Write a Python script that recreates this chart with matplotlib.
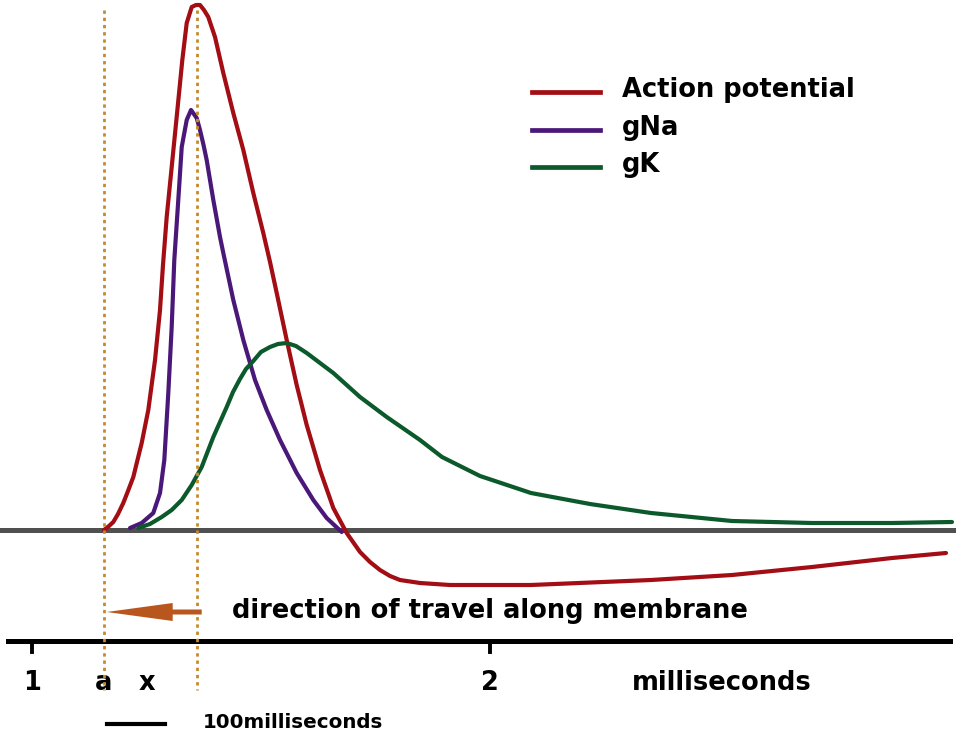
import matplotlib
matplotlib.use("Agg")
import matplotlib.pyplot as plt

# ---- data (time in ms, amplitude in arbitrary units, resting level = 0) ----
ap_t = [1.1572, 1.1681, 1.1775, 1.1878, 1.1993, 1.2096, 1.2212, 1.2395, 1.2539, 1.2686,
        1.2795, 1.2860, 1.2941, 1.3050, 1.3159, 1.3282, 1.3378, 1.3487, 1.3581, 1.3668,
        1.3755, 1.3849, 1.3996, 1.4177, 1.4395, 1.4614, 1.4832, 1.5050, 1.5197, 1.5343,
        1.5561, 1.5779, 1.5998, 1.6288, 1.6579, 1.6871, 1.7162, 1.7380, 1.7598, 1.7817,
        1.8035, 1.8472, 1.9127, 2.0895, 2.3515, 2.5284, 2.7031, 2.8777, 2.9956]
ap_v = [0, 4, 8, 16, 27, 39, 53, 87, 120, 170,
        220, 265, 313, 363, 413, 470, 507, 523, 525, 525,
        520, 513, 493, 457, 417, 380, 337, 297, 268, 237,
        190, 145, 105, 60, 22, -3, -22, -32, -40, -46,
        -50, -53, -55, -55, -50, -45, -37, -28, -23]

gna_t = [1.2140, 1.2395, 1.2648, 1.2795, 1.2889, 1.2976, 1.3050, 1.3107, 1.3194, 1.3269,
         1.3378, 1.3472, 1.3596, 1.3668, 1.3745, 1.3814, 1.3959, 1.4105, 1.4177, 1.4395,
         1.4614, 1.4869, 1.5124, 1.5415, 1.5779, 1.6142, 1.6434, 1.6762]
gna_v = [2, 7, 17, 37, 70, 137, 203, 270, 330, 383,
         410, 420, 412, 400, 385, 370, 330, 293, 277, 230,
         190, 150, 120, 90, 57, 30, 12, -2]

gk_t = [1.2321, 1.2576, 1.2832, 1.3050, 1.3269, 1.3487, 1.3705, 1.3959, 1.4251, 1.4389,
        1.4541, 1.4672, 1.4832, 1.4999, 1.5197, 1.5371, 1.5561, 1.5764, 1.5998, 1.6579,
        1.7162, 1.7745, 1.8472, 1.8952, 1.9782, 2.0895, 2.2183, 2.3515, 2.5284, 2.7031,
        2.8777, 3.0087]
gk_v = [2, 6, 13, 20, 30, 45, 63, 93, 123, 138,
        151, 161, 169, 178, 183, 186, 187, 184, 177, 157,
        133, 113, 90, 73, 54, 37, 26, 17, 9, 7,
        7, 8]

series_labels = ["Action potential", "gNa", "gK"]
tick_vals = [1, 2]
tick_labels = ["1", "2"]
point_a = 1.1572
point_x = 1.3603
label_x_pos = 1.2511

RED = "#a30d14"
PURPLE = "#4a1878"
GREEN = "#0c5a2c"
DOT = "#c48a2c"
ARROW = "#b8561e"
GREY = "#505050"

fig = plt.figure(figsize=(9.56, 7.39), dpi=100)
ax = fig.add_axes([0, 0, 1, 1])
ax.set_xlim(0.93013, 3.01747)
ax.set_ylim(-209, 530)
ax.axis("off")

FONT = dict(family="DejaVu Sans", fontweight="bold", color="black")
BIG = 18.5

# baseline (resting potential)
ax.axhline(0, color=GREY, lw=3.6, zorder=2)

# curves
ax.plot(ap_t, ap_v, color=RED, lw=3.0, zorder=3, solid_capstyle="round", solid_joinstyle="round")
ax.plot(gna_t, gna_v, color=PURPLE, lw=3.0, zorder=3, solid_capstyle="round", solid_joinstyle="round")
ax.plot(gk_t, gk_v, color=GREEN, lw=3.0, zorder=3, solid_capstyle="round", solid_joinstyle="round")

# dotted vertical markers
for xv in (point_a, point_x):
    ax.plot([xv, xv], [520, -160], color=DOT, lw=2.0, ls=(0, (1.2, 1.4)), zorder=4)

# time axis
axis_y = -111
ax.plot([0.9476, 3.0044], [axis_y, axis_y], color="black", lw=3.6, zorder=2)
for tv in tick_vals:
    ax.plot([tv, tv], [axis_y, -122], color="black", lw=2.8, zorder=2)

# arrow (direction of travel)
ax.arrow(1.3705, -82, -0.2074, 0, width=5, head_width=18, head_length=0.1441,
         length_includes_head=True, color=ARROW, lw=0, zorder=5)
ax.text(1.4367, -81, "direction of travel along membrane", fontsize=BIG,
        ha="left", va="center", **FONT)

# tick labels
lab_y = -153
for tv, tl in zip(tick_vals, tick_labels):
    ax.text(tv, lab_y, tl, fontsize=BIG, ha="center", va="center", **FONT)
ax.text(point_a, lab_y, "a", fontsize=BIG, ha="center", va="center", **FONT)
ax.text(label_x_pos, lab_y, "x", fontsize=BIG, ha="center", va="center", **FONT)
ax.text(2.3100, lab_y, "milliseconds", fontsize=BIG, ha="left", va="center", **FONT)

# scale bar
ax.plot([1.1638, 1.2904], [-194, -194], color="black", lw=3.0)
ax.text(1.3734, -192, "100milliseconds", fontsize=14.3, ha="left", va="center", **FONT)

# legend (manual)
leg_y = [438, 400, 363]
for yv, col, lab in zip(leg_y, (RED, PURPLE, GREEN), series_labels):
    ax.plot([2.0916, 2.2400], [yv, yv], color=col, lw=3.4)
    ax.text(2.2882, yv + 2, lab, fontsize=BIG, ha="left", va="center", **FONT)

fig.savefig("out.png", dpi=100)
